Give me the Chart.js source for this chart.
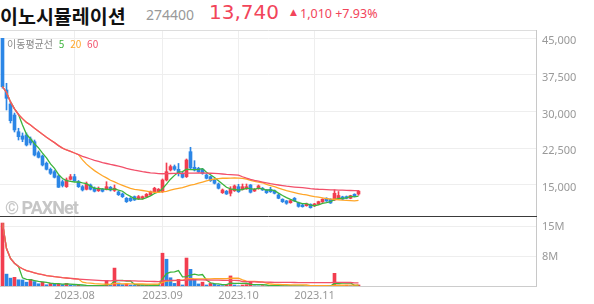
<!DOCTYPE html>
<html lang="ko">
<head>
<meta charset="utf-8">
<title>이노시뮬레이션 274400</title>
<script src="https://cdn.jsdelivr.net/npm/chart.js@4.4.1/dist/chart.umd.min.js"></script>
<style>
  html, body { margin: 0; padding: 0; background: #fff; }
  body { width: 594px; height: 304px; position: relative; overflow: hidden; }
  .abs { position: absolute; white-space: nowrap; line-height: 1; z-index: 2; }
  #name { left: 0; top: 0.5px; font: bold 19.5px 'Noto Sans CJK KR'; color: #111; }
  #code { left: 146px; top: 5px; font: 14px 'Noto Sans'; color: #999; }
  #price { left: 209px; top: 0; font: 20px 'DejaVu Sans'; color: #f2455a; }
  #tri { left: 290px; top: 7px; font: 9px 'DejaVu Sans'; color: #f2455a; }
  #chg { left: 300px; top: 5px; font: 12.5px 'Noto Sans'; color: #f2455a; }
  #maLegend { left: 7px; top: 36px; font: 10px 'Noto Sans CJK KR'; color: #8a8a8a; }
  #maLegend span { margin-left: 3px; }
  #wm { left: 5px; top: 197px; font: bold 18px Roboto; color: #c6c6c6; letter-spacing: -1px; }
  canvas { position: absolute; left: 0; }
  #priceCv { top: 30px; }
  #volCv { top: 217px; }
</style>
</head>
<body>
<div class="abs" id="name">이노시뮬레이션</div>
<div class="abs" id="code">274400</div>
<div class="abs" id="price">13,740</div>
<div class="abs" id="tri">▲</div>
<div class="abs" id="chg">1,010 +7.93%</div>
<div class="abs" id="maLegend">이동평균선 <span style="color:#3cb43c">5</span> <span style="color:#ffa628">20</span> <span style="color:#f2506a">60</span></div>
<div class="abs" id="wm">© PAXNet</div>
<canvas id="priceCv" width="594" height="187"></canvas>
<canvas id="volCv" width="594" height="87"></canvas>
<script>
// trading days (2023, MM.DD)
const tradeDays = [
  '07.06','07.07','07.10','07.11','07.12','07.13','07.14','07.17','07.18','07.19',
  '07.20','07.21','07.24','07.25','07.26','07.27','07.28','07.31',
  '08.01','08.02','08.03','08.04','08.07','08.08','08.09','08.10','08.11','08.14',
  '08.16','08.17','08.18','08.21','08.22','08.23','08.24','08.25','08.28','08.29',
  '08.30','08.31',
  '09.01','09.04','09.05','09.06','09.07','09.08','09.11','09.12','09.13','09.14',
  '09.15','09.18','09.19','09.20','09.21','09.22','09.25','09.26','09.27',
  '10.04','10.05','10.06','10.10','10.11','10.12','10.13','10.16','10.17','10.18',
  '10.19','10.20','10.23','10.24','10.25','10.26','10.27','10.30','10.31',
  '11.01','11.02','11.03','11.06','11.07','11.08','11.09','11.10','11.13','11.14',
  '11.15','11.16'
];
const openP = [
  45000, 34430, 31560, 29310, 25900, 25020, 25230, 24410, 23850, 21610,
  20930, 19440, 18210, 17720, 16840, 15670, 14650, 16160, 16700, 15670,
  14650, 14120, 15000, 14330, 13830, 14120, 14120, 14530, 13880, 13570,
  13160, 12280, 12280, 12610, 12200, 12280, 12610, 12960, 13630, 13630,
  13630, 16020, 18070, 18760, 18200, 17390, 16710, 21810, 18620, 18410,
  18200, 17050, 16700, 16020, 15200, 13430, 13710, 13300, 13830, 14650,
  14120, 14200, 15000, 13770, 14240, 14330, 13980, 14120, 13840, 12960,
  12080, 11730, 11380, 12280, 11380, 10900, 10770, 11050, 10770, 11050,
  11540, 12280, 12080, 11940, 12320, 12560, 12610, 12280, 13100, 13150
];
const highP = [
  45000, 35800, 31970, 29720, 26600, 25640, 25640, 24820, 24200, 21950,
  21140, 19700, 18480, 17970, 17050, 16020, 16430, 17150, 17190, 15920,
  14900, 15610, 15200, 14590, 14590, 14280, 15670, 14690, 15000, 13770,
  13360, 12440, 12440, 12750, 12850, 12750, 13260, 13770, 14530, 14280,
  16230, 19500, 19090, 19090, 19400, 17660, 20320, 22710, 19970, 18620,
  18410, 17250, 16840, 16230, 15410, 14180, 13880, 14650, 15000, 15140,
  15200, 15200, 15100, 14280, 15000, 14490, 14080, 14530, 13980, 13160,
  12180, 11830, 12000, 12440, 11500, 11050, 11300, 11150, 11250, 11690,
  12180, 12390, 12180, 14000, 13660, 12700, 12750, 12900, 13200, 13900
];
const lowP = [
  34800, 30340, 27680, 25840, 24200, 23850, 22980, 23180, 20930, 20520,
  18890, 18070, 17150, 16430, 14490, 14590, 14490, 16020, 15720, 14490,
  13770, 13980, 13980, 13570, 13670, 13570, 13980, 13770, 13670, 12850,
  12440, 11420, 11630, 11830, 12020, 12100, 12440, 12850, 13470, 13470,
  13470, 15820, 17860, 17970, 16840, 16430, 16530, 18270, 17860, 17600,
  17200, 16230, 15720, 15200, 14180, 13260, 13060, 12750, 13670, 13470,
  13980, 14100, 13360, 13670, 14120, 13880, 13260, 13470, 13160, 12180,
  11420, 11050, 11260, 11630, 10460, 10460, 10660, 10260, 10560, 10960,
  11420, 11630, 11220, 11830, 12200, 11980, 12180, 12180, 12600, 12900
];
const closeP = [
  35100, 32730, 28150, 26250, 24880, 24350, 23180, 23590, 21130, 20660,
  19090, 18210, 17390, 16570, 14530, 14900, 16020, 16700, 15880, 14650,
  13980, 15200, 14120, 13710, 14330, 13710, 14650, 13980, 14330, 13020,
  12610, 11590, 11790, 11940, 12610, 12610, 13100, 13630, 14330, 14120,
  16020, 17720, 18760, 18210, 17400, 16570, 20110, 18480, 18070, 17720,
  17390, 16370, 15880, 15350, 14330, 13980, 13160, 14120, 14800, 13630,
  14650, 14650, 13510, 14120, 14800, 13980, 13430, 13630, 13300, 12280,
  11590, 11260, 11790, 11730, 10630, 10560, 11120, 10360, 11120, 11590,
  12080, 11730, 11320, 13300, 12850, 12080, 12280, 12810, 12730, 13740
];
// volume, millions of shares
const volumeM = [
  15.9, 3.2, 2.2, 2.4, 1.8, 1.75, 1.2, 1.9, 1.35, 0.8,
  1.2, 0.55, 0.9, 0.7, 0.75, 0.6, 0.9, 0.5, 0.35, 0.45,
  0.3, 0.4, 0.3, 0.25, 0.35, 0.3, 1.6, 0.4, 4.7, 1.0,
  0.6, 0.7, 0.5, 0.4, 0.5, 0.4, 0.45, 0.4, 0.5, 0.4,
  8.4, 6.9, 2.3, 0.9, 1.9, 0.5, 7.2, 4.4, 1.9, 0.76,
  1.2, 0.5, 0.9, 0.75, 0.5, 0.35, 0.5, 2.75, 0.5, 0.3,
  0.5, 0.6, 1.3, 0.3, 0.28, 0.35, 0.25, 0.35, 0.3, 0.28,
  0.32, 0.25, 0.3, 0.25, 0.2, 0.25, 0.2, 0.22, 0.2, 0.25,
  0.3, 0.25, 0.22, 3.4, 0.5, 0.4, 0.45, 0.35, 0.4, 0.5
];
const maPeriods = [5, 20, 60];
const priceTicks = [15000, 22500, 30000, 37500, 45000];
const volumeTicks = [7.5, 15];

const UP = '#f23d4f', DOWN = '#2b86e6';
const maColors = ['#3cb43c', '#ffa628', '#f2506a'];
const X_MIN = -0.625, X_MAX = 133.625;   // 4px per trading day, chart area 537px wide

Chart.defaults.font.family = "'Noto Sans', sans-serif";
Chart.defaults.font.size = 11;
Chart.defaults.color = '#999';

// averages over the last n sessions (fewer while the stock is newly listed)
function movingAvg(src, n) {
  return src.map((_, i) => {
    const part = src.slice(Math.max(0, i - n + 1), i + 1);
    return part.reduce((a, b) => a + b, 0) / part.length;
  });
}
function pts(arr) { return arr.map((y, i) => ({ x: i, y: y })); }

const monthStart = [], monthLabel = [];
tradeDays.forEach((d, i) => {
  if (i > 0 && d.slice(0, 2) !== tradeDays[i - 1].slice(0, 2)) {
    monthStart.push(i);
    monthLabel.push('2023.' + d.slice(0, 2));
  }
});

const candleColor = closeP.map((c, i) => c >= openP[i] ? UP : DOWN);
const volColor = volumeM.map((v, i) => (i === 0 || v >= volumeM[i - 1]) ? UP : DOWN);

const frame = {
  id: 'frame',
  afterDraw(chart, args, o) {
    const { ctx, chartArea: a } = chart;
    const line = (x1, y1, x2, y2, c) => {
      ctx.strokeStyle = c; ctx.beginPath(); ctx.moveTo(x1, y1); ctx.lineTo(x2, y2); ctx.stroke();
    };
    ctx.save();
    ctx.lineWidth = 1;
    if (o.top) line(a.left, a.top + 0.5, a.right, a.top + 0.5, o.top);
    if (o.right) line(a.right - 0.5, a.top, a.right - 0.5, a.bottom, o.right);
    if (o.bottom) line(a.left, a.bottom - 0.5, a.right, a.bottom - 0.5, o.bottom);
    ctx.restore();
  }
};

function xScale(showLabels, h) {
  return {
    type: 'linear', min: X_MIN, max: X_MAX, offset: false,
    afterBuildTicks: s => { s.ticks = monthStart.map(v => ({ value: v })); },
    afterFit: s => { s.height = h; s.paddingLeft = 0; s.paddingRight = 0; },
    ticks: {
      display: showLabels, autoSkip: false, maxRotation: 0, padding: 2,
      callback: v => monthLabel[monthStart.indexOf(v)]
    },
    grid: { color: '#eeeeee', drawTicks: false, offset: false },
    border: { display: false }
  };
}
function yScale(min, max, ticks, fmt, labelOffset) {
  return {
    position: 'right', min: min, max: max,
    afterBuildTicks: s => { s.ticks = ticks.map(v => ({ value: v })); },
    afterFit: s => { s.width = 57; s.paddingTop = 0; s.paddingBottom = 0; },
    ticks: { padding: 5, labelOffset: labelOffset, callback: fmt },
    grid: { color: '#eeeeee', drawTicks: false },
    border: { display: false }
  };
}

const common = {
  responsive: false, animation: false, devicePixelRatio: 1,
  layout: { padding: 0 },
  events: []
};

// price pane: wicks, bodies and moving averages
const priceSets = [
  {
    type: 'bar', data: lowP.map((l, i) => ({ x: i, y: [l, highP[i]] })),
    backgroundColor: candleColor, barThickness: 1, grouped: false, order: 5
  },
  {
    type: 'bar', data: openP.map((o, i) => ({ x: i, y: [o, closeP[i]] })),
    backgroundColor: candleColor, barThickness: 3, minBarLength: 1, grouped: false, order: 4
  }
];
maPeriods.forEach((n, k) => {
  priceSets.push({
    type: 'line', data: pts(movingAvg(closeP, n)), borderColor: maColors[k],
    borderWidth: 1.3, pointRadius: 0, tension: 0, order: 3 - k
  });
});

new Chart(document.getElementById('priceCv'), {
  type: 'bar',
  data: { datasets: priceSets },
  options: Object.assign({}, common, {
    scales: {
      x: xScale(false, 0),
      y: yScale(8450, 46700, priceTicks, v => v.toLocaleString('en-US'), 3)
    },
    plugins: {
      legend: { display: false }, tooltip: { enabled: false },
      frame: { top: '#dddddd', right: '#c8c8c8', bottom: '#3a3a3a' }
    }
  }),
  plugins: [frame]
});

// volume pane
const volSets = [{
  type: 'bar', data: pts(volumeM), backgroundColor: volColor,
  barThickness: 3, grouped: false, order: 5
}];
maPeriods.forEach((n, k) => {
  volSets.push({
    type: 'line', data: pts(movingAvg(volumeM, n)), borderColor: maColors[k],
    borderWidth: 1.3, pointRadius: 0, tension: 0, order: 3 - k
  });
});

new Chart(document.getElementById('volCv'), {
  type: 'bar',
  data: { datasets: volSets },
  options: Object.assign({}, common, {
    scales: {
      x: xScale(true, 17),
      y: yScale(0, 17.4, volumeTicks, v => Math.round(v) + 'M', 0)
    },
    plugins: {
      legend: { display: false }, tooltip: { enabled: false },
      frame: { right: '#c8c8c8', bottom: '#cccccc' }
    }
  }),
  plugins: [frame]
});
</script>
</body>
</html>
